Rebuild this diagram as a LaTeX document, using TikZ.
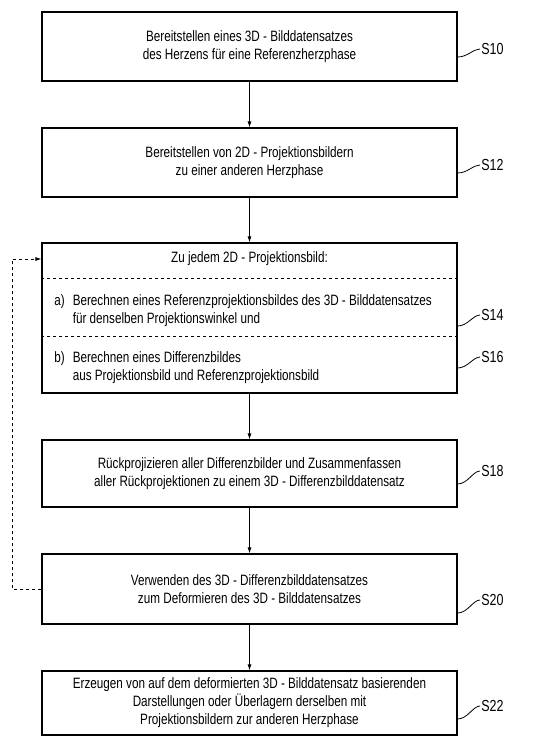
\documentclass[tikz,border=0pt]{standalone}
\usepackage{fontspec}
\setmainfont{Liberation Sans}[FakeStretch=0.78]
\usetikzlibrary{arrows.meta}

\tikzset{every picture/.style={line width=0.75pt}}
\tikzset{
  stepbox/.style={draw, line width=1.2pt, minimum width=415pt, align=center, inner sep=0pt, font=\fontsize{15}{18}\selectfont},
  parttext/.style={anchor=west, align=left, inner sep=0pt, font=\fontsize{15}{18}\selectfont},
  steplabel/.style={anchor=west, inner sep=1pt, font=\fontsize{16}{18}\selectfont},
  flow/.style={-{Latex[length=6pt,width=4pt]}},
  leader/.style={line width=0.8pt},
}

\begin{document}
\begin{tikzpicture}[x=1pt,y=1pt,yscale=-1,xscale=1]
\useasboundingbox (0,0) rectangle (550,737);

% Step boxes
\node[stepbox, minimum height=69pt] (step10) at (249.5,46.5) {Bereitstellen eines 3D - Bilddatensatzes\\des Herzens für eine Referenzherzphase};
\node[stepbox, minimum height=69pt] (step12) at (249.5,162.5) {Bereitstellen von 2D - Projektionsbildern\\zu einer anderen Herzphase};
\node[stepbox, minimum height=150pt] (step14) at (249.5,318) {};
\node[stepbox, minimum height=67pt] (step18) at (249.5,473.5) {Rückprojizieren aller Differenzbilder und Zusammenfassen\\aller Rückprojektionen zu einem 3D - Differenzbilddatensatz};
\node[stepbox, minimum height=70pt] (step20) at (249.5,589) {Verwenden des 3D - Differenzbilddatensatzes\\zum Deformieren des 3D - Bilddatensatzes};
\node[stepbox, minimum height=64pt] (step22) at (249.5,703) {Erzeugen von auf dem deformierten 3D - Bilddatensatz basierenden\\Darstellungen oder Überlagern derselben mit\\Projektionsbildern zur anderen Herzphase};

% Inside of the loop box
\node[stepbox, draw=none, minimum width=0pt] (loophead) at (249.5,259) {Zu jedem 2D - Projektionsbild:};
\draw[dashed] (step14.west |- 0,278) -- (step14.east |- 0,278);
\node[parttext] (parta) at (54,311) {a)\hspace{8pt}Berechnen eines Referenzprojektionsbildes des 3D - Bilddatensatzes\\\phantom{a)}\hspace{8pt}für denselben Projektionswinkel und};
\draw[dashed] (step14.west |- 0,336) -- (step14.east |- 0,336);
\node[parttext] (partb) at (54,367.5) {b)\hspace{8pt}Berechnen eines Differenzbildes\\\phantom{b)}\hspace{8pt}aus Projektionsbild und Referenzprojektionsbild};

% Flow arrows
\draw[flow] (step10) -- (step12);
\draw[flow] (step12) -- (step14);
\draw[flow] (step14) -- (step18);
\draw[flow] (step18) -- (step20);
\draw[flow] (step20) -- (step22);

% Loop back
\coordinate (back) at (12,589);
\draw[dashed, flow] (step20.west) -- (back) -- (back |- 0,259) -- (step14.west |- 0,259);

% Step labels
\node[steplabel] (lab10) at (480,49) {S10};
\node[steplabel] (lab12) at (480,165) {S12};
\node[steplabel] (lab14) at (480,315) {S14};
\node[steplabel] (lab16) at (480,357) {S16};
\node[steplabel] (lab18) at (480,471) {S18};
\node[steplabel] (lab20) at (480,600) {S20};
\node[steplabel] (lab22) at (480,706) {S22};

\draw[leader] (step10.east |- 0,57) .. controls +(10,0) and +(-7,0) .. (lab10.west);
\draw[leader] (step12.east |- 0,173) .. controls +(10,0) and +(-7,0) .. (lab12.west);
\draw[leader] (step14.east |- 0,326) .. controls +(10,0) and +(-7,0) .. (lab14.west);
\draw[leader] (step14.east |- 0,368) .. controls +(10,0) and +(-7,0) .. (lab16.west);
\draw[leader] (step18.east |- 0,484) .. controls +(10,0) and +(-7,0) .. (lab18.west);
\draw[leader] (step20.east |- 0,613) .. controls +(10,0) and +(-7,0) .. (lab20.west);
\draw[leader] (step22.east |- 0,719) .. controls +(10,0) and +(-7,0) .. (lab22.west);

\end{tikzpicture}
\end{document}
